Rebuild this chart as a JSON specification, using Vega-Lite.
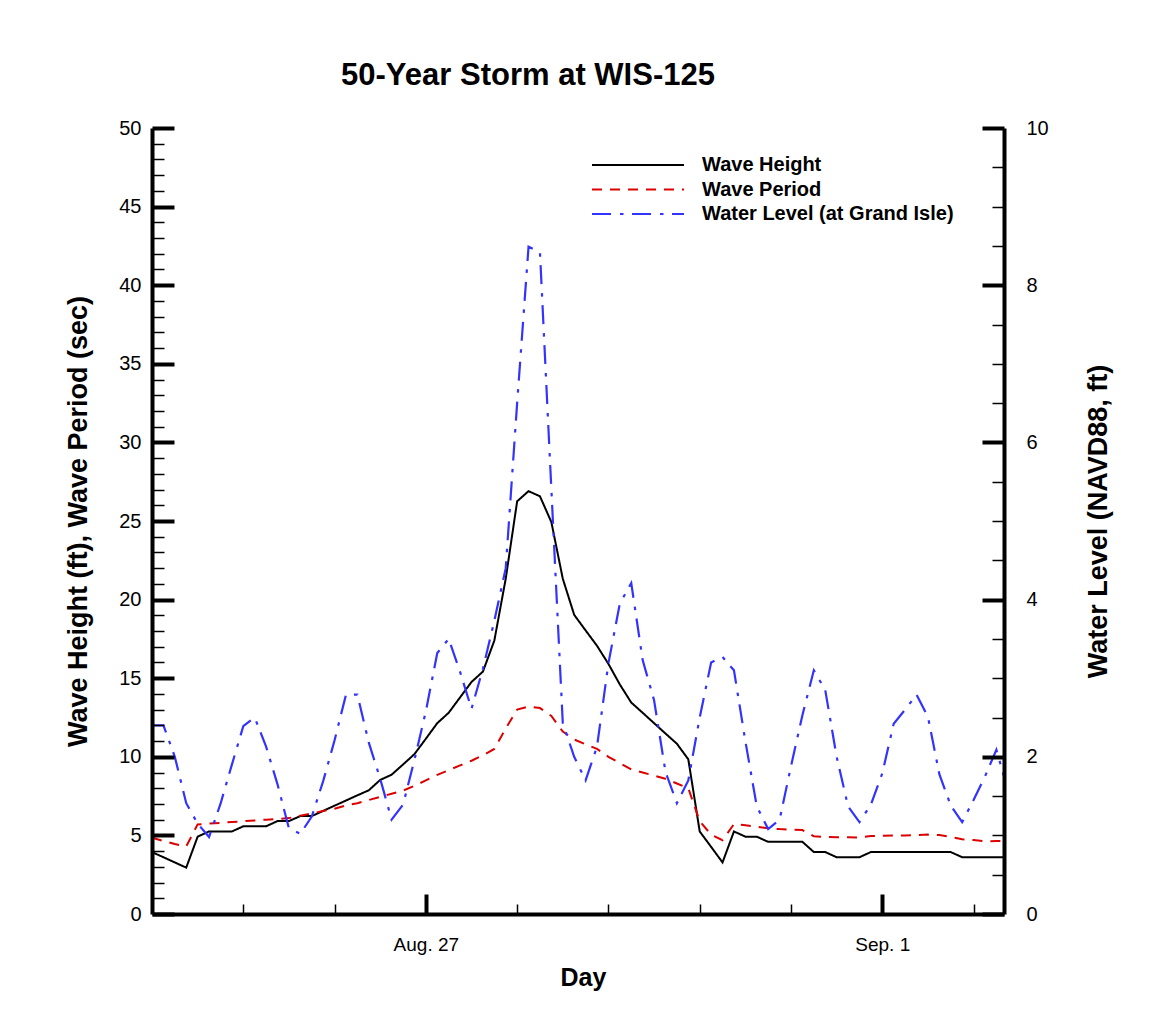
{
  "$schema": "https://vega.github.io/schema/vega-lite/v6.json",
  "width": 852,
  "height": 786,
  "autosize": {"type": "none"},
  "padding": {"left": 152, "top": 128, "right": 147, "bottom": 111},
  "background": "white",
  "config": {"view": {"stroke": null}},
  "title": {"text": "50-Year Storm at WIS-125", "font": "Liberation Sans", "fontSize": 31, "fontWeight": "bold", "color": "black", "anchor": "middle", "frame": "group", "dx": -50, "offset": 26},
  "data": {"values": [
{"s":"Wave Height","t":"2005-08-24T00:00Z","v":3.94},{"s":"Wave Height","t":"2005-08-24T03:00Z","v":3.61},{"s":"Wave Height","t":"2005-08-24T06:00Z","v":3.28},{"s":"Wave Height","t":"2005-08-24T09:00Z","v":2.95},{"s":"Wave Height","t":"2005-08-24T12:00Z","v":4.92},{"s":"Wave Height","t":"2005-08-24T15:00Z","v":5.25},{"s":"Wave Height","t":"2005-08-24T18:00Z","v":5.25},{"s":"Wave Height","t":"2005-08-24T21:00Z","v":5.25},
{"s":"Wave Height","t":"2005-08-25T00:00Z","v":5.58},{"s":"Wave Height","t":"2005-08-25T03:00Z","v":5.58},{"s":"Wave Height","t":"2005-08-25T06:00Z","v":5.58},{"s":"Wave Height","t":"2005-08-25T09:00Z","v":5.91},{"s":"Wave Height","t":"2005-08-25T12:00Z","v":5.91},{"s":"Wave Height","t":"2005-08-25T15:00Z","v":6.23},{"s":"Wave Height","t":"2005-08-25T18:00Z","v":6.23},{"s":"Wave Height","t":"2005-08-25T21:00Z","v":6.56},
{"s":"Wave Height","t":"2005-08-26T00:00Z","v":6.89},{"s":"Wave Height","t":"2005-08-26T03:00Z","v":7.22},{"s":"Wave Height","t":"2005-08-26T06:00Z","v":7.55},{"s":"Wave Height","t":"2005-08-26T09:00Z","v":7.87},{"s":"Wave Height","t":"2005-08-26T12:00Z","v":8.53},{"s":"Wave Height","t":"2005-08-26T15:00Z","v":8.86},{"s":"Wave Height","t":"2005-08-26T18:00Z","v":9.51},{"s":"Wave Height","t":"2005-08-26T21:00Z","v":10.17},
{"s":"Wave Height","t":"2005-08-27T00:00Z","v":11.15},{"s":"Wave Height","t":"2005-08-27T03:00Z","v":12.14},{"s":"Wave Height","t":"2005-08-27T06:00Z","v":12.8},{"s":"Wave Height","t":"2005-08-27T09:00Z","v":13.78},{"s":"Wave Height","t":"2005-08-27T12:00Z","v":14.76},{"s":"Wave Height","t":"2005-08-27T15:00Z","v":15.42},{"s":"Wave Height","t":"2005-08-27T18:00Z","v":17.39},{"s":"Wave Height","t":"2005-08-27T21:00Z","v":21.33},
{"s":"Wave Height","t":"2005-08-28T00:00Z","v":26.25},{"s":"Wave Height","t":"2005-08-28T03:00Z","v":26.9},{"s":"Wave Height","t":"2005-08-28T06:00Z","v":26.57},{"s":"Wave Height","t":"2005-08-28T09:00Z","v":24.93},{"s":"Wave Height","t":"2005-08-28T12:00Z","v":21.33},{"s":"Wave Height","t":"2005-08-28T15:00Z","v":19.03},{"s":"Wave Height","t":"2005-08-28T18:00Z","v":18.04},{"s":"Wave Height","t":"2005-08-28T21:00Z","v":17.06},
{"s":"Wave Height","t":"2005-08-29T00:00Z","v":15.91},{"s":"Wave Height","t":"2005-08-29T03:00Z","v":14.6},{"s":"Wave Height","t":"2005-08-29T06:00Z","v":13.45},{"s":"Wave Height","t":"2005-08-29T09:00Z","v":12.8},{"s":"Wave Height","t":"2005-08-29T12:00Z","v":12.14},{"s":"Wave Height","t":"2005-08-29T15:00Z","v":11.48},{"s":"Wave Height","t":"2005-08-29T18:00Z","v":10.83},{"s":"Wave Height","t":"2005-08-29T21:00Z","v":9.84},
{"s":"Wave Height","t":"2005-08-30T00:00Z","v":5.25},{"s":"Wave Height","t":"2005-08-30T03:00Z","v":4.27},{"s":"Wave Height","t":"2005-08-30T06:00Z","v":3.28},{"s":"Wave Height","t":"2005-08-30T09:00Z","v":5.25},{"s":"Wave Height","t":"2005-08-30T12:00Z","v":4.92},{"s":"Wave Height","t":"2005-08-30T15:00Z","v":4.92},{"s":"Wave Height","t":"2005-08-30T18:00Z","v":4.59},{"s":"Wave Height","t":"2005-08-30T21:00Z","v":4.59},
{"s":"Wave Height","t":"2005-08-31T00:00Z","v":4.59},{"s":"Wave Height","t":"2005-08-31T03:00Z","v":4.59},{"s":"Wave Height","t":"2005-08-31T06:00Z","v":3.94},{"s":"Wave Height","t":"2005-08-31T09:00Z","v":3.94},{"s":"Wave Height","t":"2005-08-31T12:00Z","v":3.61},{"s":"Wave Height","t":"2005-08-31T15:00Z","v":3.61},{"s":"Wave Height","t":"2005-08-31T18:00Z","v":3.61},{"s":"Wave Height","t":"2005-08-31T21:00Z","v":3.94},
{"s":"Wave Height","t":"2005-09-01T00:00Z","v":3.94},{"s":"Wave Height","t":"2005-09-01T03:00Z","v":3.94},{"s":"Wave Height","t":"2005-09-01T06:00Z","v":3.94},{"s":"Wave Height","t":"2005-09-01T09:00Z","v":3.94},{"s":"Wave Height","t":"2005-09-01T12:00Z","v":3.94},{"s":"Wave Height","t":"2005-09-01T15:00Z","v":3.94},{"s":"Wave Height","t":"2005-09-01T18:00Z","v":3.94},{"s":"Wave Height","t":"2005-09-01T21:00Z","v":3.61},
{"s":"Wave Height","t":"2005-09-02T00:00Z","v":3.61},{"s":"Wave Height","t":"2005-09-02T03:00Z","v":3.61},{"s":"Wave Height","t":"2005-09-02T06:00Z","v":3.61},{"s":"Wave Height","t":"2005-09-02T09:00Z","v":3.61},
{"s":"Wave Period","t":"2005-08-24T00:00Z","v":4.85},{"s":"Wave Period","t":"2005-08-24T03:00Z","v":4.65},{"s":"Wave Period","t":"2005-08-24T06:00Z","v":4.45},{"s":"Wave Period","t":"2005-08-24T09:00Z","v":4.3},{"s":"Wave Period","t":"2005-08-24T12:00Z","v":5.7},{"s":"Wave Period","t":"2005-08-24T15:00Z","v":5.75},{"s":"Wave Period","t":"2005-08-24T18:00Z","v":5.8},{"s":"Wave Period","t":"2005-08-24T21:00Z","v":5.85},
{"s":"Wave Period","t":"2005-08-25T00:00Z","v":5.9},{"s":"Wave Period","t":"2005-08-25T03:00Z","v":5.95},{"s":"Wave Period","t":"2005-08-25T06:00Z","v":6.0},{"s":"Wave Period","t":"2005-08-25T09:00Z","v":6.05},{"s":"Wave Period","t":"2005-08-25T12:00Z","v":6.1},{"s":"Wave Period","t":"2005-08-25T15:00Z","v":6.25},{"s":"Wave Period","t":"2005-08-25T18:00Z","v":6.4},{"s":"Wave Period","t":"2005-08-25T21:00Z","v":6.55},
{"s":"Wave Period","t":"2005-08-26T00:00Z","v":6.7},{"s":"Wave Period","t":"2005-08-26T03:00Z","v":6.9},{"s":"Wave Period","t":"2005-08-26T06:00Z","v":7.05},{"s":"Wave Period","t":"2005-08-26T09:00Z","v":7.25},{"s":"Wave Period","t":"2005-08-26T12:00Z","v":7.45},{"s":"Wave Period","t":"2005-08-26T15:00Z","v":7.65},{"s":"Wave Period","t":"2005-08-26T18:00Z","v":7.85},{"s":"Wave Period","t":"2005-08-26T21:00Z","v":8.15},
{"s":"Wave Period","t":"2005-08-27T00:00Z","v":8.5},{"s":"Wave Period","t":"2005-08-27T03:00Z","v":8.85},{"s":"Wave Period","t":"2005-08-27T06:00Z","v":9.15},{"s":"Wave Period","t":"2005-08-27T09:00Z","v":9.45},{"s":"Wave Period","t":"2005-08-27T12:00Z","v":9.75},{"s":"Wave Period","t":"2005-08-27T15:00Z","v":10.1},{"s":"Wave Period","t":"2005-08-27T18:00Z","v":10.5},{"s":"Wave Period","t":"2005-08-27T21:00Z","v":11.8},
{"s":"Wave Period","t":"2005-08-28T00:00Z","v":13.0},{"s":"Wave Period","t":"2005-08-28T03:00Z","v":13.2},{"s":"Wave Period","t":"2005-08-28T06:00Z","v":13.1},{"s":"Wave Period","t":"2005-08-28T09:00Z","v":12.6},{"s":"Wave Period","t":"2005-08-28T12:00Z","v":11.6},{"s":"Wave Period","t":"2005-08-28T15:00Z","v":11.1},{"s":"Wave Period","t":"2005-08-28T18:00Z","v":10.8},{"s":"Wave Period","t":"2005-08-28T21:00Z","v":10.5},
{"s":"Wave Period","t":"2005-08-29T00:00Z","v":10.0},{"s":"Wave Period","t":"2005-08-29T03:00Z","v":9.6},{"s":"Wave Period","t":"2005-08-29T06:00Z","v":9.2},{"s":"Wave Period","t":"2005-08-29T09:00Z","v":9.0},{"s":"Wave Period","t":"2005-08-29T12:00Z","v":8.8},{"s":"Wave Period","t":"2005-08-29T15:00Z","v":8.6},{"s":"Wave Period","t":"2005-08-29T18:00Z","v":8.3},{"s":"Wave Period","t":"2005-08-29T21:00Z","v":8.0},
{"s":"Wave Period","t":"2005-08-30T00:00Z","v":5.9},{"s":"Wave Period","t":"2005-08-30T03:00Z","v":5.05},{"s":"Wave Period","t":"2005-08-30T06:00Z","v":4.7},{"s":"Wave Period","t":"2005-08-30T09:00Z","v":5.72},{"s":"Wave Period","t":"2005-08-30T12:00Z","v":5.65},{"s":"Wave Period","t":"2005-08-30T15:00Z","v":5.55},{"s":"Wave Period","t":"2005-08-30T18:00Z","v":5.45},{"s":"Wave Period","t":"2005-08-30T21:00Z","v":5.4},
{"s":"Wave Period","t":"2005-08-31T00:00Z","v":5.37},{"s":"Wave Period","t":"2005-08-31T03:00Z","v":5.34},{"s":"Wave Period","t":"2005-08-31T06:00Z","v":4.95},{"s":"Wave Period","t":"2005-08-31T09:00Z","v":4.9},{"s":"Wave Period","t":"2005-08-31T12:00Z","v":4.88},{"s":"Wave Period","t":"2005-08-31T15:00Z","v":4.88},{"s":"Wave Period","t":"2005-08-31T18:00Z","v":4.87},{"s":"Wave Period","t":"2005-08-31T21:00Z","v":4.96},
{"s":"Wave Period","t":"2005-09-01T00:00Z","v":4.98},{"s":"Wave Period","t":"2005-09-01T03:00Z","v":5.0},{"s":"Wave Period","t":"2005-09-01T06:00Z","v":5.0},{"s":"Wave Period","t":"2005-09-01T09:00Z","v":5.02},{"s":"Wave Period","t":"2005-09-01T12:00Z","v":5.05},{"s":"Wave Period","t":"2005-09-01T15:00Z","v":5.02},{"s":"Wave Period","t":"2005-09-01T18:00Z","v":4.9},{"s":"Wave Period","t":"2005-09-01T21:00Z","v":4.75},
{"s":"Wave Period","t":"2005-09-02T00:00Z","v":4.7},{"s":"Wave Period","t":"2005-09-02T03:00Z","v":4.62},{"s":"Wave Period","t":"2005-09-02T06:00Z","v":4.65},{"s":"Wave Period","t":"2005-09-02T09:00Z","v":4.65},
{"s":"Water Level (at Grand Isle)","t":"2005-08-24T00:00Z","v":2.4},{"s":"Water Level (at Grand Isle)","t":"2005-08-24T03:00Z","v":2.4},{"s":"Water Level (at Grand Isle)","t":"2005-08-24T06:00Z","v":2.0},{"s":"Water Level (at Grand Isle)","t":"2005-08-24T09:00Z","v":1.41},{"s":"Water Level (at Grand Isle)","t":"2005-08-24T12:00Z","v":1.15},{"s":"Water Level (at Grand Isle)","t":"2005-08-24T15:00Z","v":0.98},{"s":"Water Level (at Grand Isle)","t":"2005-08-24T18:00Z","v":1.4},{"s":"Water Level (at Grand Isle)","t":"2005-08-24T21:00Z","v":1.9},
{"s":"Water Level (at Grand Isle)","t":"2005-08-25T00:00Z","v":2.39},{"s":"Water Level (at Grand Isle)","t":"2005-08-25T03:00Z","v":2.5},{"s":"Water Level (at Grand Isle)","t":"2005-08-25T06:00Z","v":2.13},{"s":"Water Level (at Grand Isle)","t":"2005-08-25T09:00Z","v":1.65},{"s":"Water Level (at Grand Isle)","t":"2005-08-25T12:00Z","v":1.09},{"s":"Water Level (at Grand Isle)","t":"2005-08-25T15:00Z","v":1.02},{"s":"Water Level (at Grand Isle)","t":"2005-08-25T18:00Z","v":1.24},{"s":"Water Level (at Grand Isle)","t":"2005-08-25T21:00Z","v":1.69},
{"s":"Water Level (at Grand Isle)","t":"2005-08-26T00:00Z","v":2.21},{"s":"Water Level (at Grand Isle)","t":"2005-08-26T03:00Z","v":2.79},{"s":"Water Level (at Grand Isle)","t":"2005-08-26T06:00Z","v":2.79},{"s":"Water Level (at Grand Isle)","t":"2005-08-26T09:00Z","v":2.18},{"s":"Water Level (at Grand Isle)","t":"2005-08-26T12:00Z","v":1.72},{"s":"Water Level (at Grand Isle)","t":"2005-08-26T15:00Z","v":1.2},{"s":"Water Level (at Grand Isle)","t":"2005-08-26T18:00Z","v":1.39},{"s":"Water Level (at Grand Isle)","t":"2005-08-26T21:00Z","v":1.96},
{"s":"Water Level (at Grand Isle)","t":"2005-08-27T00:00Z","v":2.58},{"s":"Water Level (at Grand Isle)","t":"2005-08-27T03:00Z","v":3.32},{"s":"Water Level (at Grand Isle)","t":"2005-08-27T06:00Z","v":3.5},{"s":"Water Level (at Grand Isle)","t":"2005-08-27T09:00Z","v":3.08},{"s":"Water Level (at Grand Isle)","t":"2005-08-27T12:00Z","v":2.61},{"s":"Water Level (at Grand Isle)","t":"2005-08-27T15:00Z","v":3.12},{"s":"Water Level (at Grand Isle)","t":"2005-08-27T18:00Z","v":3.73},{"s":"Water Level (at Grand Isle)","t":"2005-08-27T21:00Z","v":4.4},
{"s":"Water Level (at Grand Isle)","t":"2005-08-28T00:00Z","v":6.5},{"s":"Water Level (at Grand Isle)","t":"2005-08-28T03:00Z","v":8.49},{"s":"Water Level (at Grand Isle)","t":"2005-08-28T06:00Z","v":8.42},{"s":"Water Level (at Grand Isle)","t":"2005-08-28T09:00Z","v":5.4},{"s":"Water Level (at Grand Isle)","t":"2005-08-28T12:00Z","v":2.43},{"s":"Water Level (at Grand Isle)","t":"2005-08-28T15:00Z","v":2.0},{"s":"Water Level (at Grand Isle)","t":"2005-08-28T18:00Z","v":1.7},{"s":"Water Level (at Grand Isle)","t":"2005-08-28T21:00Z","v":2.13},
{"s":"Water Level (at Grand Isle)","t":"2005-08-29T00:00Z","v":3.19},{"s":"Water Level (at Grand Isle)","t":"2005-08-29T03:00Z","v":3.95},{"s":"Water Level (at Grand Isle)","t":"2005-08-29T06:00Z","v":4.21},{"s":"Water Level (at Grand Isle)","t":"2005-08-29T09:00Z","v":3.23},{"s":"Water Level (at Grand Isle)","t":"2005-08-29T12:00Z","v":2.72},{"s":"Water Level (at Grand Isle)","t":"2005-08-29T15:00Z","v":1.81},{"s":"Water Level (at Grand Isle)","t":"2005-08-29T18:00Z","v":1.41},{"s":"Water Level (at Grand Isle)","t":"2005-08-29T21:00Z","v":1.7},
{"s":"Water Level (at Grand Isle)","t":"2005-08-30T00:00Z","v":2.5},{"s":"Water Level (at Grand Isle)","t":"2005-08-30T03:00Z","v":3.2},{"s":"Water Level (at Grand Isle)","t":"2005-08-30T06:00Z","v":3.27},{"s":"Water Level (at Grand Isle)","t":"2005-08-30T09:00Z","v":3.1},{"s":"Water Level (at Grand Isle)","t":"2005-08-30T12:00Z","v":2.2},{"s":"Water Level (at Grand Isle)","t":"2005-08-30T15:00Z","v":1.37},{"s":"Water Level (at Grand Isle)","t":"2005-08-30T18:00Z","v":1.08},{"s":"Water Level (at Grand Isle)","t":"2005-08-30T21:00Z","v":1.2},
{"s":"Water Level (at Grand Isle)","t":"2005-08-31T00:00Z","v":1.88},{"s":"Water Level (at Grand Isle)","t":"2005-08-31T03:00Z","v":2.53},{"s":"Water Level (at Grand Isle)","t":"2005-08-31T06:00Z","v":3.1},{"s":"Water Level (at Grand Isle)","t":"2005-08-31T09:00Z","v":2.85},{"s":"Water Level (at Grand Isle)","t":"2005-08-31T12:00Z","v":2.0},{"s":"Water Level (at Grand Isle)","t":"2005-08-31T15:00Z","v":1.37},{"s":"Water Level (at Grand Isle)","t":"2005-08-31T18:00Z","v":1.17},{"s":"Water Level (at Grand Isle)","t":"2005-08-31T21:00Z","v":1.39},
{"s":"Water Level (at Grand Isle)","t":"2005-09-01T00:00Z","v":1.79},{"s":"Water Level (at Grand Isle)","t":"2005-09-01T03:00Z","v":2.42},{"s":"Water Level (at Grand Isle)","t":"2005-09-01T06:00Z","v":2.6},{"s":"Water Level (at Grand Isle)","t":"2005-09-01T09:00Z","v":2.79},{"s":"Water Level (at Grand Isle)","t":"2005-09-01T12:00Z","v":2.51},{"s":"Water Level (at Grand Isle)","t":"2005-09-01T15:00Z","v":1.78},{"s":"Water Level (at Grand Isle)","t":"2005-09-01T18:00Z","v":1.38},{"s":"Water Level (at Grand Isle)","t":"2005-09-01T21:00Z","v":1.17},
{"s":"Water Level (at Grand Isle)","t":"2005-09-02T00:00Z","v":1.45},{"s":"Water Level (at Grand Isle)","t":"2005-09-02T03:00Z","v":1.75},{"s":"Water Level (at Grand Isle)","t":"2005-09-02T06:00Z","v":2.09},{"s":"Water Level (at Grand Isle)","t":"2005-09-02T09:00Z","v":1.58}
  ]},
  "encoding": {
    "x": {
      "field": "t", "type": "temporal",
      "scale": {"type": "utc", "domain": [{"year": 2005, "month": 8, "date": 24, "utc": true}, {"year": 2005, "month": 9, "date": 2, "hours": 8, "utc": true}]},
      "axis": {
        "title": "Day", "titleFont": "Liberation Sans", "titleFontSize": 25, "titleFontWeight": "bold", "titleColor": "black",
        "titleX": 431, "titleY": 71, "titleBaseline": "alphabetic", "titleAlign": "center",
        "values": [
          {"year": 2005, "month": 8, "date": 25, "utc": true}, {"year": 2005, "month": 8, "date": 26, "utc": true},
          {"year": 2005, "month": 8, "date": 27, "utc": true}, {"year": 2005, "month": 8, "date": 28, "utc": true},
          {"year": 2005, "month": 8, "date": 29, "utc": true}, {"year": 2005, "month": 8, "date": 30, "utc": true},
          {"year": 2005, "month": 8, "date": 31, "utc": true}, {"year": 2005, "month": 9, "date": 1, "utc": true},
          {"year": 2005, "month": 9, "date": 2, "utc": true}
        ],
        "labelExpr": "utcdate(datum.value) == 27 ? 'Aug. 27' : (utcdate(datum.value) == 1 ? 'Sep. 1' : '')",
        "labelFont": "Liberation Sans Narrow, Liberation Sans", "labelFontSize": 19, "labelColor": "black",
        "labelBaseline": "top", "labelPadding": 41, "labelFlush": false, "labelOverlap": false,
        "tickSize": {"condition": {"test": "utcdate(datum.value) == 27 || utcdate(datum.value) == 1", "value": -20}, "value": -10},
        "tickWidth": {"condition": {"test": "utcdate(datum.value) == 27 || utcdate(datum.value) == 1", "value": 4}, "value": 1.5},
        "tickColor": "black", "domainColor": "black", "domainWidth": 4, "grid": false, "zindex": 1
      }
    },
    "color": {
      "field": "s", "type": "nominal",
      "scale": {"domain": ["Wave Height", "Wave Period", "Water Level (at Grand Isle)"], "range": ["#000000", "#dd0000", "#3333ff"]},
      "legend": {
        "orient": "none", "legendX": 439, "legendY": 27, "title": null, "padding": 0,
        "symbolType": "stroke", "symbolSize": 8464, "symbolStrokeWidth": 2, "clipHeight": 20,
        "labelFont": "Liberation Sans", "labelFontSize": 20, "labelFontWeight": "bold", "labelColor": "black",
        "labelOffset": 17, "rowPadding": 4.5, "labelLimit": 400
      }
    },
    "strokeDash": {
      "field": "s", "type": "nominal",
      "scale": {"domain": ["Wave Height", "Wave Period", "Water Level (at Grand Isle)"], "range": [[1, 0], [10, 8], [19, 9, 3.5, 8.5]]},
      "legend": {
        "orient": "none", "legendX": 439, "legendY": 27, "title": null, "padding": 0,
        "symbolType": "stroke", "symbolSize": 8464, "symbolStrokeWidth": 2, "clipHeight": 20,
        "labelFont": "Liberation Sans", "labelFontSize": 20, "labelFontWeight": "bold", "labelColor": "black",
        "labelOffset": 17, "rowPadding": 4.5, "labelLimit": 400
      }
    }
  },
  "layer": [
    {
      "transform": [{"filter": "datum.s != 'Water Level (at Grand Isle)'"}],
      "mark": {"type": "line", "clip": true, "strokeWidth": 2},
      "encoding": {
        "y": {
          "field": "v", "type": "quantitative",
          "scale": {"domain": [0, 50], "nice": false},
          "axis": {
            "orient": "left",
            "title": "Wave Height (ft), Wave Period (sec)", "titleFont": "Liberation Sans", "titleFontSize": 27, "titleFontWeight": "bold", "titleColor": "black",
            "titleX": -66, "titleY": 393, "titleAngle": -90, "titleBaseline": "alphabetic", "titleAlign": "center",
            "values": [0,1,2,3,4,5,6,7,8,9,10,11,12,13,14,15,16,17,18,19,20,21,22,23,24,25,26,27,28,29,30,31,32,33,34,35,36,37,38,39,40,41,42,43,44,45,46,47,48,49,50],
            "labelExpr": "datum.value % 5 == 0 ? format(datum.value, 'd') : ''",
            "labelFont": "Liberation Sans", "labelFontSize": 20, "labelColor": "black", "labelPadding": 33, "labelFlush": false, "labelOverlap": false,
            "tickSize": {"condition": {"test": "datum.value % 5 == 0", "value": -22}, "value": -12},
            "tickWidth": {"condition": {"test": "datum.value % 5 == 0", "value": 4}, "value": 1.5},
            "tickColor": "black", "domainColor": "black", "domainWidth": 4, "grid": false, "zindex": 1
          }
        }
      }
    },
    {
      "transform": [{"filter": "datum.s == 'Water Level (at Grand Isle)'"}],
      "mark": {"type": "line", "clip": true, "strokeWidth": 2.2},
      "encoding": {
        "y": {
          "field": "v", "type": "quantitative",
          "scale": {"domain": [0, 10], "nice": false},
          "axis": {
            "orient": "right",
            "title": "Water Level (NAVD88, ft)", "titleFont": "Liberation Sans", "titleFontSize": 27, "titleFontWeight": "bold", "titleColor": "black",
            "titleX": 102, "titleY": 393, "titleAngle": -90, "titleBaseline": "alphabetic", "titleAlign": "center",
            "values": [0,0.5,1,1.5,2,2.5,3,3.5,4,4.5,5,5.5,6,6.5,7,7.5,8,8.5,9,9.5,10],
            "labelExpr": "datum.value % 2 == 0 ? format(datum.value, 'd') : ''",
            "labelFont": "Liberation Sans", "labelFontSize": 20, "labelColor": "black", "labelPadding": 44, "labelFlush": false, "labelOverlap": false,
            "tickSize": {"condition": {"test": "datum.value % 2 == 0", "value": -22}, "value": -12},
            "tickWidth": {"condition": {"test": "datum.value % 2 == 0", "value": 4}, "value": 1.5},
            "tickColor": "black", "domainColor": "black", "domainWidth": 4, "grid": false, "zindex": 1
          }
        }
      }
    }
  ],
  "resolve": {"scale": {"y": "independent"}}
}
